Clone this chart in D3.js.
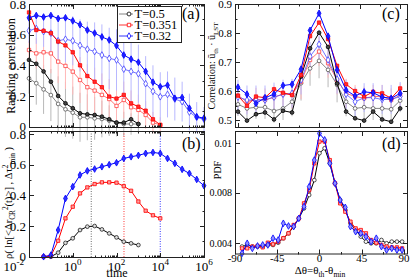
<!DOCTYPE html>
<html>
<head>
<meta charset="utf-8">
<script src="https://cdn.jsdelivr.net/npm/d3@7"></script>
<style>
  body { margin: 0; background: #fff; }
  svg { display: block; font-family: "Liberation Serif", "DejaVu Serif", serif; }
</style>
</head>
<body>
<svg width="411" height="279"></svg>
<script>
// ---------- data ----------
// (a) ranking correlation, one point every third of a decade
const timeA = [0.01, 0.0215, 0.0464, 0.1, 0.215, 0.464, 1, 2.15, 4.64, 10, 21.5, 46.4, 100, 215, 464, 1000, 2150, 4640, 10000, 21500, 46400, 100000, 215000, 464000, 1000000]
const blackFilledA = [0.435, 0.41, 0.36, 0.293, 0.20, 0.152, 0.12, 0.087, 0.08, 0.076, 0.065, 0.048, 0.026, 0.026, 0.048, 0.017]
const blackOpenA = [0.315, 0.283, 0.243, 0.206, 0.148, 0.113, 0.091, 0.061, 0.061, 0.054, 0.05, 0.039, 0.026, 0.017, 0.017, 0.017]
const redFilledA = [0.745, 0.63, 0.625, 0.61, 0.555, 0.53, 0.485, 0.40, 0.33, 0.293, 0.257, 0.196, 0.183, 0.207, 0.152, 0.13, 0.104, 0.048, 0.011]
const redOpenA = [0.50, 0.478, 0.485, 0.478, 0.424, 0.396, 0.359, 0.304, 0.257, 0.235, 0.207, 0.18, 0.135, 0.174, 0.126, 0.109, 0.076, 0.026, 0.011]
const blueFilledA = [0.71, 0.725, 0.715, 0.725, 0.705, 0.71, 0.69, 0.665, 0.63, 0.61, 0.585, 0.565, 0.528, 0.467, 0.44, 0.42, 0.36, 0.29, 0.26, 0.27, 0.185, 0.19, 0.12, 0.065, 0.055]
const blueOpenA = [0.626, 0.64, 0.62, 0.61, 0.56, 0.57, 0.56, 0.53, 0.505, 0.49, 0.467, 0.445, 0.435, 0.375, 0.36, 0.345, 0.28, 0.23, 0.195, 0.21, 0.18, 0.163, 0.095, 0.06, 0.048]
const errBlackA = [0.1, 0.14, 0.16, 0.17, 0.18, 0.18, 0.17, 0.16, 0.15, 0.14, 0.12, 0.1, 0.09, 0.08, 0.07, 0.06]
const errRedA = [0.06, 0.1, 0.12, 0.13, 0.14, 0.15, 0.15, 0.15, 0.15, 0.15, 0.14, 0.13, 0.12, 0.12, 0.11, 0.1, 0.09, 0.07, 0.05]
const errBlueA = [0.08, 0.1, 0.1, 0.12, 0.14, 0.15, 0.16, 0.17, 0.18, 0.19, 0.2, 0.2, 0.2, 0.2, 0.2, 0.19, 0.18, 0.17, 0.16, 0.15, 0.14, 0.13, 0.12, 0.1, 0.08]

// (b) rho vs time
const timeB = [0.0464, 0.1, 0.215, 0.464, 1, 2.15, 4.64, 10, 21.5, 46.4, 100, 215, 464, 1000, 2150, 4640, 10000, 21500, 46400, 100000, 215000, 464000, 1000000]
const blackB = [0, 0, 0.026, 0.09, 0.12, 0.174, 0.196, 0.2, 0.178, 0.152, 0.126, 0.098, 0.087, 0.076]
const redB = [0, 0.004, 0.104, 0.25, 0.326, 0.413, 0.452, 0.474, 0.485, 0.485, 0.483, 0.46, 0.43, 0.36, 0.30, 0.27, 0.25]
const blueB = [0, 0.01, 0.174, 0.38, 0.457, 0.533, 0.56, 0.572, 0.587, 0.60, 0.613, 0.641, 0.652, 0.661, 0.674, 0.68, 0.674, 0.641, 0.609, 0.57, 0.543, 0.504, 0.463]
const markTimes = [7, 220, 10000]

// (c) correlation vs angle
const angleC = [-90, -80, -70, -60, -50, -40, -30, -20, -10, 0, 10, 20, 30, 40, 50, 60, 70, 80, 90]
const blackFilledC = [0.53, 0.499, 0.521, 0.527, 0.503, 0.533, 0.527, 0.651, 0.748, 0.802, 0.753, 0.627, 0.53, 0.507, 0.499, 0.53, 0.503, 0.495, 0.541]
const blackOpenC = [0.555, 0.541, 0.545, 0.545, 0.532, 0.541, 0.564, 0.628, 0.679, 0.705, 0.674, 0.622, 0.564, 0.541, 0.545, 0.541, 0.541, 0.538, 0.568]
const redFilledC = [0.585, 0.55, 0.582, 0.578, 0.607, 0.595, 0.587, 0.656, 0.79, 0.837, 0.78, 0.688, 0.624, 0.601, 0.582, 0.598, 0.593, 0.576, 0.61]
const redOpenC = [0.585, 0.564, 0.572, 0.57, 0.58, 0.59, 0.59, 0.633, 0.708, 0.737, 0.697, 0.639, 0.593, 0.582, 0.576, 0.582, 0.582, 0.57, 0.587]
const blueFilledC = [0.614, 0.59, 0.558, 0.578, 0.59, 0.62, 0.624, 0.676, 0.81, 0.869, 0.79, 0.674, 0.604, 0.584, 0.598, 0.595, 0.58, 0.576, 0.593]
const blueOpenC = [0.58, 0.57, 0.57, 0.57, 0.58, 0.59, 0.593, 0.639, 0.72, 0.762, 0.708, 0.642, 0.59, 0.564, 0.578, 0.578, 0.572, 0.572, 0.582]
const errBlackC = [0.04, 0.04, 0.04, 0.04, 0.04, 0.04, 0.05, 0.06, 0.06, 0.06, 0.06, 0.06, 0.05, 0.04, 0.04, 0.04, 0.04, 0.04, 0.04]
const errRedC = [0.04, 0.04, 0.04, 0.04, 0.04, 0.04, 0.05, 0.06, 0.05, 0.05, 0.05, 0.05, 0.05, 0.04, 0.04, 0.04, 0.04, 0.04, 0.04]
const errBlueC = [0.06, 0.05, 0.05, 0.05, 0.05, 0.05, 0.05, 0.05, 0.05, 0.05, 0.05, 0.05, 0.05, 0.05, 0.05, 0.05, 0.05, 0.05, 0.05]

// (d) PDF of angle difference
const angleD = [-82.5, -77, -71.5, -66, -60.5, -55, -49.5, -44, -38.5, -33, -27.5, -22, -16.5, -11, -5.5, 0, 5.5, 11, 16.5, 22, 27.5, 33, 38.5, 44, 49.5, 55, 60.5, 66, 71.5, 77, 82.5, 88]
const blackD = [0.00374, 0.00387, 0.00374, 0.00374, 0.00374, 0.00387, 0.00387, 0.00405, 0.0044, 0.00479, 0.00532, 0.00597, 0.00676, 0.00782, 0.00851, 0.0096, 0.0098, 0.00919, 0.00838, 0.00742, 0.00663, 0.00558, 0.00505, 0.00453, 0.00413, 0.004, 0.004, 0.00426, 0.004, 0.00413, 0.00413, 0.00413]
const redD = [0.0036, 0.0036, 0.00374, 0.00379, 0.00368, 0.00405, 0.00392, 0.00413, 0.0044, 0.00479, 0.00545, 0.00597, 0.00716, 0.00811, 0.00919, 0.01007, 0.01007, 0.00932, 0.00838, 0.00716, 0.0065, 0.00571, 0.00518, 0.00505, 0.00479, 0.00426, 0.00405, 0.00387, 0.00374, 0.00368, 0.00368, 0.0036]
const blueD = [0.00321, 0.004, 0.0036, 0.00379, 0.00387, 0.00387, 0.0044, 0.00426, 0.00558, 0.00537, 0.00532, 0.00597, 0.0069, 0.00824, 0.00932, 0.0104, 0.01014, 0.00919, 0.00838, 0.00742, 0.00684, 0.00532, 0.00492, 0.00479, 0.00453, 0.00413, 0.0044, 0.00374, 0.00347, 0.0036, 0.00347, 0.00347]

// tick labels
const yTicksAB = [0, 0.2, 0.4, 0.6, 0.8]
const timeTicks = [0.01, 1, 100, 10000, 1000000]
const timeExp = ['-2', '0', '2', '4', '6']
const yTicksC = [0.5, 0.6, 0.7, 0.8, 0.9]
const yTicksD = [0.004, 0.008, 0.01]
const angleTicks = [-90, -45, 0, 45, 90]
const legendLabels = ['T=0.5', 'T=0.351', 'T=0.32']

// ---------- layout ----------
const $svg = d3.select('svg')
const boxA = {x0: 29, x1: 205, y0: 4, y1: 128}
const boxB = {x0: 29, x1: 205, y0: 131, y1: 258}
const boxC = {x0: 235, x1: 408, y0: 4, y1: 128}
const boxD = {x0: 235, x1: 408, y0: 131, y1: 254.5}

const xTime = d3.scaleLog().domain([0.01, 1.11e6]).range([boxA.x0, boxA.x1])
const yA = d3.scaleLinear().domain([-0.009, 0.8]).range([boxA.y1, boxA.y0])
const yB = d3.scaleLinear().domain([-0.0085, 0.82]).range([boxB.y1, boxB.y0])
const xC = d3.scaleLinear().domain([-93.3, 98.7]).range([boxC.x0, boxC.x1])
const yC = d3.scaleLinear().domain([0.4735, 0.901]).range([boxC.y1, boxC.y0])
const xD = d3.scaleLinear().domain([-90, 94.3]).range([boxD.x0, boxD.x1])
// the PDF axis is drawn piecewise, as in the original figure
const yD = d3.scaleLinear().domain([0.004, 0.008, 0.01]).range([243.3, 192.7, 143.3])

const colors = {black: '#000', red: '#ff0000', blue: '#0000ff'}
const light = {black: '#b8b8b8', red: '#ffb8b8', blue: '#b8b8ff'}

// ---------- helpers ----------
function frame(b){
  $svg.append('rect')
    .attr('x', b.x0 + 0.5).attr('y', b.y0 + 0.5)
    .attr('width', b.x1 - b.x0 - 1).attr('height', b.y1 - b.y0 - 1)
    .attr('fill', 'none').attr('stroke', '#222').attr('stroke-width', 1)
}

function xTicks(b, scale, vals, len){
  const g = $svg.append('g').attr('stroke', '#222').attr('stroke-width', 1)
  vals.forEach(v => {
    const x = Math.round(scale(v)) + 0.5
    g.append('line').attr('x1', x).attr('x2', x).attr('y1', b.y1).attr('y2', b.y1 - len)
    g.append('line').attr('x1', x).attr('x2', x).attr('y1', b.y0).attr('y2', b.y0 + len)
  })
}

function yTicks(b, scale, vals, len){
  const g = $svg.append('g').attr('stroke', '#222').attr('stroke-width', 1)
  vals.forEach(v => {
    const y = Math.round(scale(v)) + 0.5
    g.append('line').attr('y1', y).attr('y2', y).attr('x1', b.x0).attr('x2', b.x0 + len)
    g.append('line').attr('y1', y).attr('y2', y).attr('x1', b.x1).attr('x2', b.x1 - len)
  })
}

function yLabels(b, scale, vals, size, fmt){
  $svg.append('g').selectAll('text').data(vals).join('text')
    .attr('x', b.x0 - 3).attr('y', d => scale(d))
    .attr('dy', '0.35em').attr('text-anchor', 'end')
    .style('font-size', size + 'px')
    .text(fmt)
}

// rich text: parts are [text, shift] with shift 1 = superscript, -1 = subscript
function rich(sel, parts, size){
  let cur = 0
  parts.forEach(([t, s]) => {
    const target = s === 1 ? -0.4 * size : s === -1 ? 0.25 * size : 0
    sel.append('tspan')
      .attr('dy', target - cur)
      .style('font-size', (s ? size * 0.7 : size) + 'px')
      .text(t)
    cur = target
  })
}

function errorBars(x, y, xs, ys, errs, color){
  $svg.append('g').selectAll('line').data(ys).join('line')
    .attr('x1', (d, i) => x(xs[i])).attr('x2', (d, i) => x(xs[i]))
    .attr('y1', (d, i) => y(d - errs[i])).attr('y2', (d, i) => y(d + errs[i]))
    .attr('stroke', color).attr('stroke-width', 1)
}

function series(x, y, xs, ys, st){
  const pts = ys.map((d, i) => [x(xs[i]), y(d)])
  $svg.append('path').datum(pts)
    .attr('d', d3.line())
    .attr('fill', 'none').attr('stroke', st.line).attr('stroke-width', st.lw || 1)
  $svg.append('g').selectAll('path').data(pts).join('path')
    .attr('transform', d => `translate(${d[0]},${d[1]})`)
    .attr('d', d3.symbol(st.shape, st.size || 11))
    .attr('fill', st.fill).attr('stroke', st.stroke).attr('stroke-width', 0.8)
}

const shapes = {black: d3.symbolCircle, red: d3.symbolSquare, blue: d3.symbolDiamond}

// ---------- panel (a) ----------
const minorTime = []
;[-1, 1, 3, 5].forEach(e => d3.range(1, 10).forEach(k => minorTime.push(k * Math.pow(10, e))))

function panelA(){
  errorBars(xTime, yA, timeA, blackOpenA, errBlackA, light.black)
  errorBars(xTime, yA, timeA, redOpenA, errRedA, light.red)
  errorBars(xTime, yA, timeA, blueOpenA, errBlueA, light.blue)

  series(xTime, yA, timeA, blackOpenA, {shape: shapes.black, line: '#666', stroke: '#555', fill: '#fff', lw: 0.8})
  series(xTime, yA, timeA, redOpenA, {shape: shapes.red, line: '#ff5050', stroke: '#ff4040', fill: '#fff', lw: 0.8})
  series(xTime, yA, timeA, blueOpenA, {shape: shapes.blue, line: '#5050ff', stroke: '#4040ff', fill: '#fff', lw: 0.8, size: 13})
  series(xTime, yA, timeA, blackFilledA, {shape: shapes.black, line: '#000', stroke: '#000', fill: '#444'})
  series(xTime, yA, timeA, redFilledA, {shape: shapes.red, line: '#f00', stroke: '#f00', fill: '#ff3030'})
  series(xTime, yA, timeA, blueFilledA, {shape: shapes.blue, line: '#00f', stroke: '#00f', fill: '#2020ff', size: 13})

  frame(boxA)
  xTicks(boxA, xTime, timeTicks, 5)
  xTicks(boxA, xTime, minorTime, 2.5)
  yTicks(boxA, yA, yTicksAB, 5)
  yTicks(boxA, yA, [0.1, 0.3, 0.5, 0.7], 2.5)
  yLabels(boxA, yA, yTicksAB, 13, d => d === 0 ? '0' : d3.format('.1f')(d))

  $svg.append('text')
    .attr('transform', `translate(11, 66) rotate(-90)`)
    .attr('text-anchor', 'middle').attr('dy', '0.35em')
    .style('font-size', '12px')
    .text('Ranking correlation')

  // legend
  const lg = $svg.append('g')
  lg.append('rect').attr('x', 117.5).attr('y', 6.5).attr('width', 64).attr('height', 36)
    .attr('fill', '#fff').attr('stroke', '#222')
  const keys = ['black', 'red', 'blue']
  keys.forEach((k, i) => {
    const y = 14 + i * 11
    lg.append('line').attr('x1', 119).attr('x2', 133).attr('y1', y).attr('y2', y)
      .attr('stroke', k === 'black' ? '#666' : colors[k]).attr('stroke-width', 0.8)
    lg.append('path').attr('transform', `translate(129,${y})`)
      .attr('d', d3.symbol(shapes[k], 12))
      .attr('fill', '#fff').attr('stroke', colors[k]).attr('stroke-width', 0.8)
    lg.append('text').attr('x', 134.5).attr('y', y).attr('dy', '0.35em')
      .style('font-size', '12.5px').text(legendLabels[i])
  })

  $svg.append('text').attr('x', 182).attr('y', 19).style('font-size', '16px').text('(a)')
}

// ---------- panel (b) ----------
function panelB(){
  $svg.append('g').selectAll('line').data(markTimes).join('line')
    .attr('x1', d => xTime(d)).attr('x2', d => xTime(d))
    .attr('y1', boxB.y0).attr('y2', boxB.y1)
    .attr('stroke', (d, i) => ['#444', '#ff0000', '#0000ff'][i])
    .attr('stroke-width', 0.8).attr('stroke-dasharray', '1,1.5')

  series(xTime, yB, timeB, blackB, {shape: shapes.black, line: '#000', stroke: '#222', fill: '#ddd'})
  series(xTime, yB, timeB, redB, {shape: shapes.red, line: '#f00', stroke: '#f00', fill: '#ffa0a0'})
  series(xTime, yB, timeB, blueB, {shape: shapes.blue, line: '#00f', stroke: '#00f', fill: '#3030ff', size: 13})

  frame(boxB)
  xTicks(boxB, xTime, timeTicks, 5)
  xTicks(boxB, xTime, minorTime, 2.5)
  yTicks(boxB, yB, yTicksAB, 5)
  yTicks(boxB, yB, [0.1, 0.3, 0.5, 0.7], 2.5)
  yLabels(boxB, yB, yTicksAB, 13, d => d === 0 ? '0' : d3.format('.1f')(d))

  const lab = $svg.append('g').selectAll('text').data(timeTicks).join('text')
    .attr('x', (d, i) => i === 0 ? xTime(d) - 5 : xTime(d))
    .attr('y', 270.5)
    .attr('text-anchor', (d, i) => i === 0 ? 'end' : 'middle')
    .style('font-size', '13px')
  lab.each(function(d, i){ rich(d3.select(this), [['10', 0], [timeExp[i], 1]], 13) })

  $svg.append('text').attr('x', 117).attr('y', 277).attr('text-anchor', 'middle')
    .style('font-size', '12px').text('time')

  const yl = $svg.append('text')
    .attr('transform', `translate(12, 203) rotate(-90)`)
    .attr('text-anchor', 'middle')
    .style('font-size', '10.5px')
  rich(yl, [['ρ( ln[<Δr', 0], ['CR', -1], ['2', 1], ['(t)>] , Δτ', 0], ['2', 1], ['min', -1], [' )', 0]], 10.5)

  $svg.append('text').attr('x', 182).attr('y', 149).style('font-size', '16px').text('(b)')
}

// ---------- panel (c) ----------
function panelC(){
  errorBars(xC, yC, angleC, blackOpenC, errBlackC, light.black)
  errorBars(xC, yC, angleC, redOpenC, errRedC, light.red)
  errorBars(xC, yC, angleC, blueOpenC, errBlueC, light.blue)

  series(xC, yC, angleC, blackOpenC, {shape: shapes.black, line: '#666', stroke: '#555', fill: '#fff', lw: 0.8})
  series(xC, yC, angleC, redOpenC, {shape: shapes.red, line: '#ff5050', stroke: '#ff4040', fill: '#fff', lw: 0.8})
  series(xC, yC, angleC, blueOpenC, {shape: shapes.blue, line: '#5050ff', stroke: '#4040ff', fill: '#fff', lw: 0.8, size: 13})
  series(xC, yC, angleC, blackFilledC, {shape: shapes.black, line: '#000', stroke: '#000', fill: '#444'})
  series(xC, yC, angleC, redFilledC, {shape: shapes.red, line: '#f00', stroke: '#f00', fill: '#ff3030'})
  series(xC, yC, angleC, blueFilledC, {shape: shapes.blue, line: '#00f', stroke: '#00f', fill: '#2020ff', size: 13})

  frame(boxC)
  xTicks(boxC, xC, angleTicks, 5)
  xTicks(boxC, xC, [-67.5, -22.5, 22.5, 67.5], 2.5)
  yTicks(boxC, yC, yTicksC, 5)
  yTicks(boxC, yC, [0.55, 0.65, 0.75, 0.85], 2.5)
  yLabels(boxC, yC, yTicksC, 11, d3.format('.1f'))

  const yl = $svg.append('text')
    .attr('transform', `translate(215, 66) rotate(-90)`)
    .attr('text-anchor', 'middle').attr('dy', '0.35em')
    .style('font-size', '10px')
  rich(yl, [['Correlation: ū', 0], ['th', -1], [' · ū', 0], ['LST', -1]], 10)

  $svg.append('text').attr('x', 382).attr('y', 19).style('font-size', '16px').text('(c)')
}

// ---------- panel (d) ----------
function panelD(){
  series(xD, yD, angleD, blackD, {shape: shapes.black, line: '#000', stroke: '#222', fill: '#fff'})
  series(xD, yD, angleD, redD, {shape: shapes.red, line: '#f00', stroke: '#f00', fill: '#ffb0b0'})
  series(xD, yD, angleD, blueD, {shape: shapes.blue, line: '#00f', stroke: '#00f', fill: '#9090ff', size: 13})

  frame(boxD)
  xTicks(boxD, xD, angleTicks, 5)
  xTicks(boxD, xD, [-67.5, -22.5, 22.5, 67.5], 2.5)
  yTicks(boxD, yD, yTicksD, 5)
  yLabels(boxD, yD, yTicksD, 10, d => String(d))

  $svg.append('g').selectAll('text').data(angleTicks).join('text')
    .attr('x', d => xD(d)).attr('y', 262)
    .attr('text-anchor', 'middle').style('font-size', '11px')
    .text(d => d)

  const xl = $svg.append('text').attr('x', 320).attr('y', 274)
    .attr('text-anchor', 'middle').style('font-size', '11px')
  rich(xl, [['Δθ=θ', 0], ['th', -1], ['-θ', 0], ['min', -1]], 11)

  $svg.append('text')
    .attr('transform', `translate(217, 170) rotate(-90)`)
    .attr('text-anchor', 'middle').attr('dy', '0.35em')
    .style('font-size', '10px').text('PDF')

  $svg.append('text').attr('x', 382).attr('y', 149).style('font-size', '16px').text('(d)')
}

panelA()
panelB()
panelC()
panelD()
</script>
</body>
</html>
